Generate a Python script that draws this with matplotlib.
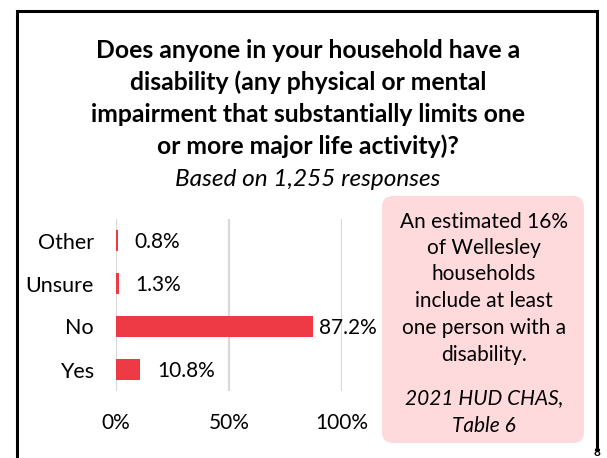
import matplotlib
matplotlib.use("Agg")
import matplotlib.pyplot as plt
from matplotlib.patches import FancyBboxPatch
from matplotlib.lines import Line2D

# Survey responses
categories = ["Yes", "No", "Unsure", "Other"]
shares = [10.8, 87.2, 1.3, 0.8]
x_ticks = [0, 50, 100]
x_tick_labels = ["0%", "50%", "100%"]

title_lines = [
    "Does anyone in your household have a",
    "disability (any physical or mental",
    "impairment that substantially limits one",
    "or more major life activity)?",
]
subtitle = "Based on 1,255 responses"
note_lines = [
    "An estimated 16%",
    "of Wellesley",
    "households",
    "include at least",
    "one person with a",
    "disability.",
]
source_lines = ["2021 HUD CHAS,", "Table 6"]

plt.rcParams["font.family"] = ["Lato", "DejaVu Sans"]

W, H = 607, 458
fig = plt.figure(figsize=(W / 100, H / 100), dpi=100)

def fx(px):
    return px / W

def fy(py):
    return 1 - py / H

# Outer frame (left, top, right edges)
frame = Line2D([fx(17), fx(17), fx(597), fx(597)],
               [fy(458), fy(11), fy(11), fy(450)],
               transform=fig.transFigure, color="black", lw=2.2,
               solid_joinstyle="miter")
fig.add_artist(frame)
fig.text(fx(597), fy(452), "8", ha="center", va="center", fontsize=8.5,
         fontweight="bold", color="black")

# Title block
for i, line in enumerate(title_lines):
    fig.text(fx(308), fy(50 + i * 32), line, ha="center", va="center",
             fontsize=17.8, fontweight="bold", color="black")
fig.text(fx(308), fy(180), subtitle, ha="center", va="center",
         fontsize=17.6, style="italic", color="black")

# Bar chart
ax = fig.add_axes([fx(116), fy(391), fx(342) - fx(116), (391 - 219) / H])
ax.barh(range(len(categories)), shares, height=0.47, color="#EE3A45")
ax.set_xlim(0, 100)
ax.set_ylim(-0.5, len(categories) - 0.5)
ax.set_yticks(range(len(categories)))
ax.set_yticklabels(categories, fontsize=15.5)
ax.set_xticks(x_ticks)
ax.set_xticklabels(x_tick_labels, fontsize=15)
ax.tick_params(axis="both", length=0)
ax.tick_params(axis="x", pad=16)
ax.tick_params(axis="y", pad=16)
for s in ax.spines.values():
    s.set_visible(False)
ax.set_axisbelow(True)
for t in x_ticks:
    ax.axvline(t, color="#d9d9d9", lw=1.6, zorder=0)

for i, v in enumerate(shares):
    off = 4 if v > 50 else 12
    ax.annotate(f"{v:.1f}%", xy=(v, i), xytext=(off, -1),
                textcoords="offset points", ha="left", va="center",
                fontsize=15, color="black")

# Context note box
box = FancyBboxPatch((fx(382), fy(443)), fx(584) - fx(382), (443 - 196) / H,
                     boxstyle="round,pad=0,rounding_size=0.018",
                     transform=fig.transFigure, facecolor="#FFDADC",
                     edgecolor="none", mutation_aspect=W / H)
fig.add_artist(box)
note_y = [222, 248, 274, 301, 328, 355]
for line, y in zip(note_lines, note_y):
    fig.text(fx(484), fy(y), line, ha="center", va="center", fontsize=15,
             color="black")
for line, y in zip(source_lines, [398, 426]):
    fig.text(fx(484), fy(y), line, ha="center", va="center", fontsize=15,
             style="italic", color="black")

fig.savefig("out.png", dpi=100)
